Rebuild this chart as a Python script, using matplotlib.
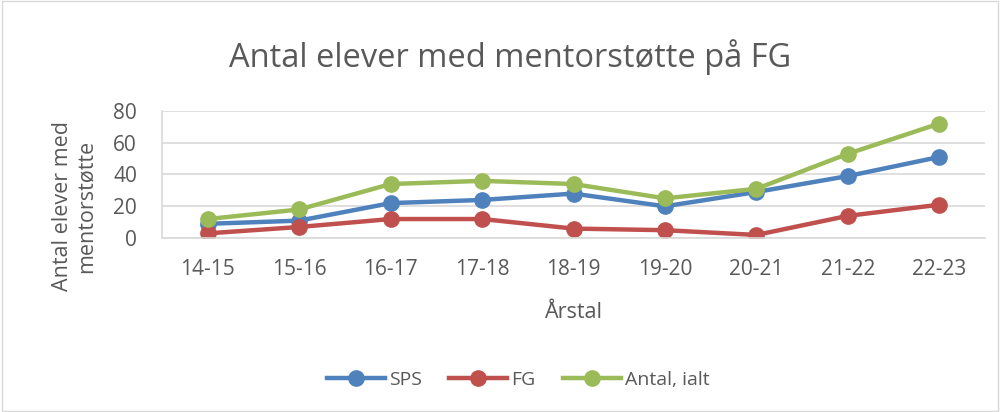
import matplotlib.pyplot as plt
from matplotlib.patches import Rectangle

plt.rcParams['font.family'] = ['Open Sans', 'DejaVu Sans']

years = ['14-15', '15-16', '16-17', '17-18', '18-19', '19-20', '20-21', '21-22', '22-23']
sps = [9, 11, 22, 24, 28, 20, 29, 39, 51]
fg = [3, 7, 12, 12, 6, 5, 2, 14, 21]
total = [12, 18, 34, 36, 34, 25, 31, 53, 72]

txt = '#595959'
grid = '#d9d9d9'

fig = plt.figure(figsize=(10, 4.12), dpi=100)
fig.patches.append(Rectangle((0.002, 0.003), 0.996, 0.994, transform=fig.transFigure,
                             fill=False, edgecolor=grid, linewidth=1))
ax = fig.add_axes([0.162, 0.422, 0.823, 0.309])

x = list(range(len(years)))
ax.plot(x, sps, color='#4F81BD', lw=3.2, marker='o', ms=11, label='SPS')
ax.plot(x, fg, color='#C0504D', lw=3.2, marker='o', ms=11, label='FG')
ax.plot(x, total, color='#9BBB59', lw=3.2, marker='o', ms=11, label='Antal, ialt')

ax.set_xlim(-0.5, 8.5)
ax.set_ylim(0, 80)
ax.set_yticks([0, 20, 40, 60, 80])
ax.set_xticks(x)
ax.set_xticklabels(years)
ax.yaxis.grid(True, color=grid, lw=1.2)
ax.set_axisbelow(True)
for s in ['top', 'right']:
    ax.spines[s].set_visible(False)
for s in ['left', 'bottom']:
    ax.spines[s].set_color(grid)
    ax.spines[s].set_linewidth(1.2)
ax.tick_params(length=0, colors=txt, labelsize=15, pad=18)
ax.tick_params(axis='x', pad=15)

ax.set_xlabel('Årstal', color=txt, fontsize=15.5, labelpad=16)
fig.text(0.075, 0.5, 'Antal elever med\nmentorstøtte', rotation=90, ha='center', va='center',
         color=txt, fontsize=15.5, linespacing=1.25)
fig.text(0.51, 0.862, 'Antal elever med mentorstøtte på FG', ha='center', va='center',
         color=txt, fontsize=23.5)

fig.legend(loc='center', bbox_to_anchor=(0.518, 0.078), ncol=3, frameon=False,
           fontsize=14, labelcolor=txt, handlelength=3, columnspacing=1.4, handletextpad=0.2)

fig.savefig('out.png', dpi=100)
